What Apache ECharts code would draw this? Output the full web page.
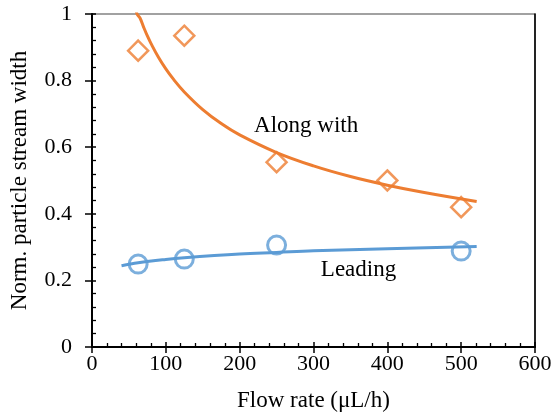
<!DOCTYPE html>
<html>
<head>
<meta charset="utf-8">
<script src="https://cdn.jsdelivr.net/npm/echarts@6/dist/echarts.min.js"></script>
<style>
  html, body { margin: 0; padding: 0; background: #fff; }
  #chart { width: 555px; height: 420px; }
</style>
</head>
<body>
<div id="chart"></div>
<script>
// Measured points
const flowRates = [62.5, 125, 250, 400, 500];
const alongWith = [0.89, 0.935, 0.555, 0.50, 0.42];
const leadingRates = [62.5, 125, 250, 500];
const leading = [0.249, 0.264, 0.306, 0.288];

// Trend curves (power-law trendlines), sampled along the drawn curve
const alongTrendX = [58, 61, 65, 70, 75, 80, 90, 100, 110, 125, 150, 175, 200, 250, 300, 350, 400, 450, 521];
const alongTrendY = [1.033, 1.0, 0.988, 0.96, 0.934, 0.911, 0.87, 0.835, 0.805, 0.766, 0.713, 0.671, 0.637, 0.584, 0.544, 0.512, 0.486, 0.464, 0.437];
const leadTrendX = [40, 62.5, 100, 125, 200, 250, 300, 400, 521];
const leadTrendY = [0.244, 0.253, 0.263, 0.268, 0.279, 0.284, 0.289, 0.295, 0.302];

const xTicks = [0, 600, 100];
const yTicks = [0, 1, 0.2];

const ORANGE = '#ED7D31';
const BLUE = '#5B9BD5';
const FONT = 'Times New Roman';

const pairs = (xs, ys) => xs.map((x, i) => [x, ys[i]]);

const chart = echarts.init(document.getElementById('chart'), null, { renderer: 'canvas' });

const baseX = { type: 'value', min: xTicks[0], max: xTicks[1], interval: xTicks[2], position: 'bottom', splitLine: { show: false } };
const baseY = { type: 'value', min: yTicks[0], max: yTicks[1], interval: yTicks[2], position: 'left', splitLine: { show: false } };

chart.setOption({
  animation: false,
  grid: {
    left: 92, right: 20, top: 14, bottom: 73,
    containLabel: false, outerBoundsMode: 'none',
    show: true, borderColor: '#444', borderWidth: 1.2, backgroundColor: 'transparent'
  },
  xAxis: [
    Object.assign({}, baseX, {
      name: 'Flow rate (\u03bcL/h)', nameLocation: 'middle', nameGap: 42,
      nameTextStyle: { fontFamily: FONT, fontSize: 23, color: '#000' },
      axisLine: { lineStyle: { color: '#000', width: 2 } },
      axisTick: { show: true, inside: false, length: 6, lineStyle: { color: '#000', width: 1.5 } },
      axisLabel: { fontFamily: FONT, fontSize: 22, color: '#000', margin: 6 }
    }),
    Object.assign({}, baseX, {
      axisLine: { show: false },
      axisTick: { show: true, inside: true, length: 5, lineStyle: { color: '#000', width: 1.5 } },
      minorTick: { show: true, splitNumber: 5, length: 4, lineStyle: { color: '#000', width: 1.3 } },
      axisLabel: { show: false }
    })
  ],
  yAxis: [
    Object.assign({}, baseY, {
      name: 'Norm. particle stream width', nameLocation: 'middle', nameGap: 61,
      nameTextStyle: { fontFamily: FONT, fontSize: 23, color: '#000' },
      axisLine: { lineStyle: { color: '#000', width: 2 } },
      axisTick: { show: true, inside: false, length: 7, lineStyle: { color: '#000', width: 1.5 } },
      axisLabel: { fontFamily: FONT, fontSize: 22, color: '#000', margin: 20 }
    }),
    Object.assign({}, baseY, {
      axisLine: { show: false },
      axisTick: { show: true, inside: true, length: 4, lineStyle: { color: '#000', width: 1.5 } },
      minorTick: { show: true, splitNumber: 5, length: 4, lineStyle: { color: '#000', width: 1.3 } },
      axisLabel: { show: false }
    }),
    Object.assign({}, baseY, {
      position: 'right',
      axisLine: { show: true, lineStyle: { color: '#000', width: 1.5 } },
      axisTick: { show: false },
      axisLabel: { show: false }
    })
  ],
  series: [
    {
      name: 'Along with trend', type: 'line', smooth: 0.4, symbol: 'none', clip: true,
      data: pairs(alongTrendX, alongTrendY),
      lineStyle: { color: ORANGE, width: 3 }, z: 2
    },
    {
      name: 'Leading trend', type: 'line', smooth: 0.4, symbol: 'none', clip: true,
      data: pairs(leadTrendX, leadTrendY),
      lineStyle: { color: BLUE, width: 3 }, z: 2
    },
    {
      name: 'Along with', type: 'scatter', symbol: 'diamond', symbolSize: [20, 20],
      data: pairs(flowRates, alongWith),
      itemStyle: { color: 'rgba(255,255,255,0)', borderColor: ORANGE, borderWidth: 2.5 }, z: 3
    },
    {
      name: 'Leading', type: 'scatter', symbol: 'circle', symbolSize: 18,
      data: pairs(leadingRates, leading),
      itemStyle: { color: 'rgba(255,255,255,0)', borderColor: BLUE, borderWidth: 3 }, z: 3
    }
  ]
});

// Series annotations placed in data coordinates
const notes = [
  { text: 'Along with', at: [290, 0.664] },
  { text: 'Leading', at: [361, 0.231] }
];
chart.setOption({
  graphic: notes.map(n => {
    const p = chart.convertToPixel({ xAxisIndex: 0, yAxisIndex: 0 }, n.at);
    return {
      type: 'text', x: p[0], y: p[1], z: 10,
      style: { text: n.text, font: '23px "Liberation Serif", "Times New Roman", serif', fill: '#000', align: 'center', verticalAlign: 'middle' }
    };
  })
});
</script>
</body>
</html>
